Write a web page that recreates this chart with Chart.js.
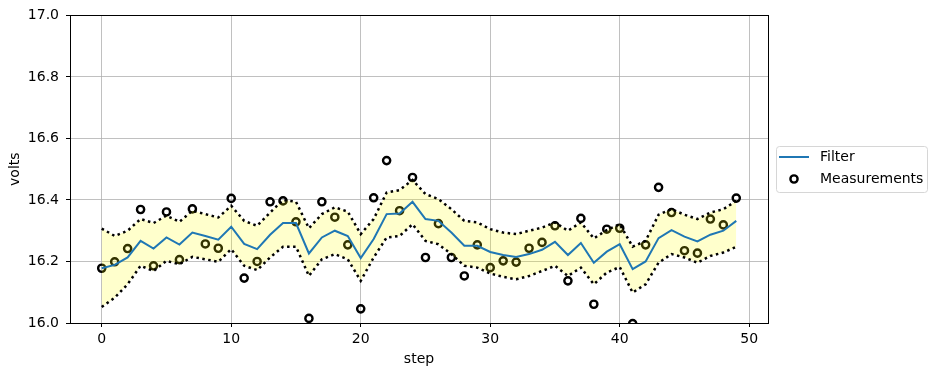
<!DOCTYPE html>
<html>
<head>
<meta charset="utf-8">
<script src="https://cdn.jsdelivr.net/npm/chart.js@4/dist/chart.umd.min.js"></script>
<style>
  html, body { margin: 0; padding: 0; background: #fff; }
  #wrap { width: 937px; height: 376px; }
</style>
</head>
<body>
<div id="wrap"><canvas id="chart-volts" width="937" height="376"></canvas></div>
<script>
const steps = Array.from({ length: 50 }, (_, i) => i);

const measurements = [
    16.178, 16.199, 16.242, 16.369, 16.186, 16.361, 16.206, 16.371, 16.257, 16.243,
    16.405, 16.146, 16.200, 16.394, 16.397, 16.329, 16.015, 16.394, 16.344, 16.254,
    16.046, 16.407, 16.528, 16.365, 16.473, 16.213, 16.323, 16.213, 16.153, 16.254,
    16.180, 16.202, 16.198, 16.243, 16.262, 16.316, 16.137, 16.340, 16.061, 16.305,
    16.308, 15.998, 16.254, 16.441, 16.359, 16.235, 16.227, 16.338, 16.319, 16.406,
];

const filterVals = [
    16.178, 16.189, 16.213, 16.267, 16.242, 16.278, 16.255, 16.294, 16.283, 16.271,
    16.313, 16.257, 16.240, 16.287, 16.325, 16.325, 16.226, 16.278, 16.300, 16.283,
    16.211, 16.273, 16.354, 16.356, 16.394, 16.338, 16.332, 16.294, 16.251, 16.251,
    16.231, 16.221, 16.215, 16.224, 16.238, 16.264, 16.221, 16.260, 16.196, 16.232,
    16.256, 16.175, 16.200, 16.276, 16.302, 16.281, 16.265, 16.287, 16.300, 16.332,
];

const upperVals = [
    16.307, 16.283, 16.300, 16.338, 16.325, 16.349, 16.329, 16.365, 16.354, 16.343,
    16.381, 16.332, 16.316, 16.359, 16.400, 16.394, 16.308, 16.354, 16.376, 16.362,
    16.289, 16.338, 16.424, 16.432, 16.465, 16.419, 16.403, 16.370, 16.332, 16.327,
    16.305, 16.294, 16.289, 16.300, 16.310, 16.327, 16.300, 16.327, 16.275, 16.302,
    16.321, 16.248, 16.267, 16.352, 16.370, 16.352, 16.338, 16.359, 16.370, 16.397,
];

const lowerVals = [
    16.052, 16.082, 16.126, 16.186, 16.169, 16.202, 16.191, 16.215, 16.207, 16.199,
    16.240, 16.186, 16.172, 16.213, 16.248, 16.248, 16.153, 16.207, 16.224, 16.207,
    16.137, 16.213, 16.278, 16.283, 16.321, 16.267, 16.256, 16.224, 16.186, 16.180,
    16.161, 16.150, 16.142, 16.153, 16.169, 16.186, 16.153, 16.180, 16.126, 16.164,
    16.182, 16.099, 16.126, 16.196, 16.224, 16.213, 16.196, 16.218, 16.229, 16.248,
];

const xTicks = [0, 10, 20, 30, 40, 50];
const yTicks = [16.0, 16.2, 16.4, 16.6, 16.8, 17.0];

const FONT = 'DejaVu Sans';
const BLUE = '#1f77b4';

const pts = vals => steps.map((s, i) => ({ x: s, y: vals[i] }));

// Axes frame (all four spines) and the right-hand legend box
const framePlugin = {
    id: 'frame',
    afterDraw(c) {
        const { ctx, chartArea: a } = c;
        ctx.save();
        ctx.strokeStyle = '#000';
        ctx.lineWidth = 1;
        ctx.strokeRect(Math.round(a.left) + 0.5, Math.round(a.top) + 0.5,
                       Math.round(a.right - a.left), Math.round(a.bottom - a.top));

        // legend
        const lx = 776, ly = 146, lw = 151, lh = 46, r = 3;
        ctx.beginPath();
        ctx.roundRect(lx + 0.5, ly + 0.5, lw, lh, r);
        ctx.fillStyle = 'rgba(255,255,255,0.8)';
        ctx.fill();
        ctx.strokeStyle = '#d6d6d6';
        ctx.stroke();

        ctx.beginPath();
        ctx.moveTo(779, 157);
        ctx.lineTo(809, 157);
        ctx.strokeStyle = BLUE;
        ctx.lineWidth = 2;
        ctx.stroke();

        ctx.beginPath();
        ctx.arc(794, 179, 3.6, 0, Math.PI * 2);
        ctx.strokeStyle = '#000';
        ctx.lineWidth = 2.4;
        ctx.stroke();

        ctx.fillStyle = '#000';
        ctx.font = `14px "${FONT}"`;
        ctx.textBaseline = 'middle';
        ctx.textAlign = 'left';
        ctx.fillText('Filter', 820, 157);
        ctx.fillText('Measurements', 820, 179);
        ctx.restore();
    },
};

new Chart(document.getElementById('chart-volts'), {
    type: 'line',
    data: {
        datasets: [
            {
                label: 'Measurements',
                data: pts(measurements),
                showLine: false,
                pointRadius: 3.6,
                pointBorderWidth: 2.4,
                pointBorderColor: '#000',
                pointBackgroundColor: 'rgba(0,0,0,0)',
                clip: 0,
                order: 4,
            },
            {
                label: 'upper',
                data: pts(upperVals),
                borderColor: '#000',
                borderWidth: 2.5,
                borderDash: [2.5, 3.5],
                pointRadius: 0,
                fill: '+1',
                backgroundColor: 'rgba(255,255,0,0.2)',
                tension: 0,
                order: 3,
            },
            {
                label: 'lower',
                data: pts(lowerVals),
                borderColor: '#000',
                borderWidth: 2.5,
                borderDash: [2.5, 3.5],
                pointRadius: 0,
                fill: false,
                tension: 0,
                order: 2,
            },
            {
                label: 'Filter',
                data: pts(filterVals),
                borderColor: BLUE,
                borderWidth: 2,
                pointRadius: 0,
                fill: false,
                tension: 0,
                order: 1,
            },
        ],
    },
    options: {
        responsive: false,
        animation: false,
        events: [],
        layout: { padding: { left: 0, right: 169, top: 15, bottom: 0 } },
        plugins: { legend: { display: false }, tooltip: { enabled: false } },
        scales: {
            x: {
                type: 'linear',
                min: -2.45,
                max: 51.45,
                afterBuildTicks: s => { s.ticks = xTicks.map(v => ({ value: v })); },
                afterFit: s => { s.height = 53; },
                grid: { color: '#b0b0b0', lineWidth: 0.8, tickColor: '#000', tickLength: 4, tickWidth: 1 },
                border: { display: false },
                ticks: { color: '#000', font: { family: FONT, size: 14 }, padding: 4, maxRotation: 0 },
                title: { display: true, text: 'step', color: '#000', font: { family: FONT, size: 14 }, padding: { top: 0, bottom: 8 } },
            },
            y: {
                min: 16.0,
                max: 17.0,
                afterBuildTicks: s => { s.ticks = yTicks.map(v => ({ value: v })); },
                afterFit: s => { s.width = 70; },
                grid: { color: '#b0b0b0', lineWidth: 0.8, tickColor: '#000', tickLength: 4, tickWidth: 1 },
                border: { display: false },
                ticks: { color: '#000', font: { family: FONT, size: 14 }, padding: 7, callback: v => v.toFixed(1) },
                title: { display: true, text: 'volts', color: '#000', font: { family: FONT, size: 14 }, padding: { top: 7, bottom: 0 } },
            },
        },
    },
    plugins: [framePlugin],
});
</script>
</body>
</html>
